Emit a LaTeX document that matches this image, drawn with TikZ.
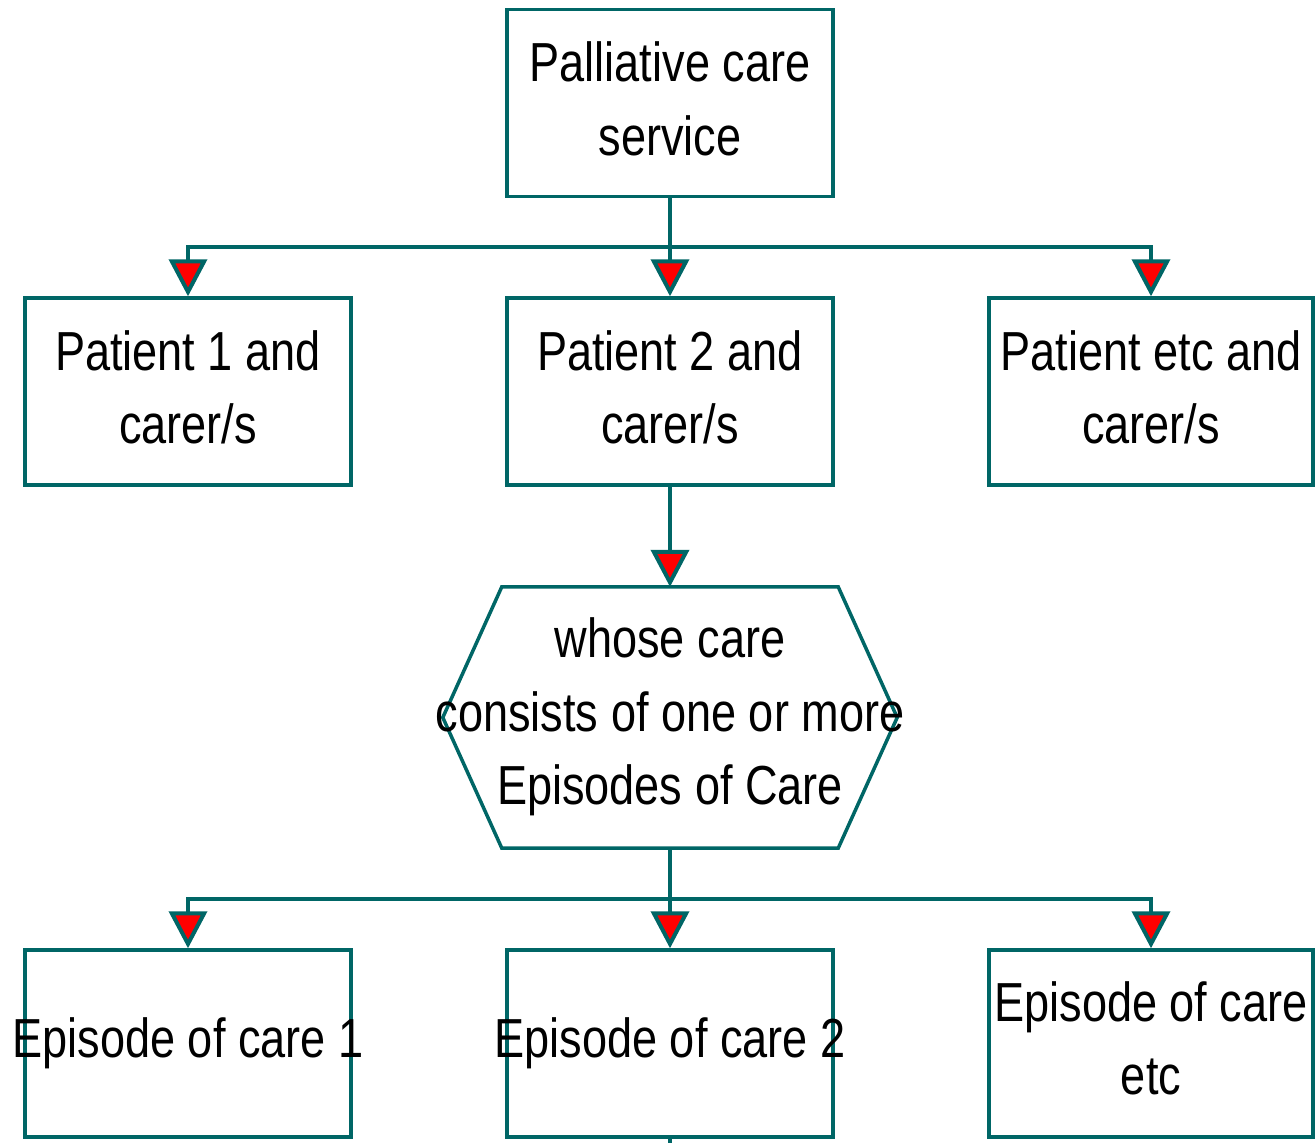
\documentclass[tikz,border=0pt]{standalone}
\usepackage{fontspec}
\setmainfont{Liberation Sans}[FakeStretch=0.82]
\usetikzlibrary{arrows.meta}
\definecolor{teal}{RGB}{0,102,102}
\tikzset{
  box/.style={draw=teal, line width=3.5pt, minimum width=326pt, minimum height=187pt, inner sep=0pt},
  txt/.style={inner sep=0pt, align=center, font=\fontsize{55}{73.5}\selectfont},
  conn/.style={draw=teal, line width=3.5pt},
  arr/.style={conn, -{Triangle[width=38pt,length=37pt,fill=red,line width=4pt]}},
}
\begin{document}
\begin{tikzpicture}[x=1pt,y=-1pt]
\useasboundingbox (0,0) rectangle (1315,1143);
% boxes
\node[box] (svc) at (670,103) {};
\node[box] (p1) at (188,391.5) {};
\node[box] (p2) at (670,391.5) {};
\node[box, minimum width=324pt] (p3) at (1151,391.5) {};
\node[minimum width=454pt, minimum height=261pt, inner sep=0pt] (hex) at (670,717.5) {};
\draw[conn, line join=miter] ([xshift=59pt]hex.north west) -- ([xshift=-59pt]hex.north east) -- (hex.east) -- ([xshift=-59pt]hex.south east) -- ([xshift=59pt]hex.south west) -- (hex.west) -- cycle;
\node[box] (e1) at (188,1043.5) {};
\node[box] (e2) at (670,1043.5) {};
\node[box, minimum width=324pt] (e3) at (1151,1043.5) {};
% texts
\node[txt, yshift=4pt] (svct) at (svc) {Palliative care\\service};
\node[txt, yshift=4pt] (p1t) at (p1) {Patient 1 and\\carer/s};
\node[txt, yshift=4pt] (p2t) at (p2) {Patient 2 and\\carer/s};
\node[txt, yshift=4pt] (p3t) at (p3) {Patient etc and\\carer/s};
\node[txt] (hext) at (670,717) {whose care\\consists of one or more\\Episodes of Care};
\node[txt] (e1t) at (e1) {Episode of care 1};
\node[txt] (e2t) at (e2) {Episode of care 2};
\node[txt, yshift=5pt] (e3t) at (e3) {Episode of care\\etc};
% connectors
\coordinate (j1) at (670,247);
\coordinate (j2) at (670,899);
\coordinate (stub) at (670,1143);
\draw[conn] (svc.south) -- (j1);
\draw[arr] (j1) -| (p1.north);
\draw[arr] (j1) -- (p2.north);
\draw[arr] (j1) -| (p3.north);
\draw[arr] (p2.south) -- (hex.north);
\draw[conn] (hex.south) -- (j2);
\draw[arr] (j2) -| (e1.north);
\draw[arr] (j2) -- (e2.north);
\draw[arr] (j2) -| (e3.north);
\draw[conn] (e2.south) -- (stub);
\end{tikzpicture}
\end{document}
